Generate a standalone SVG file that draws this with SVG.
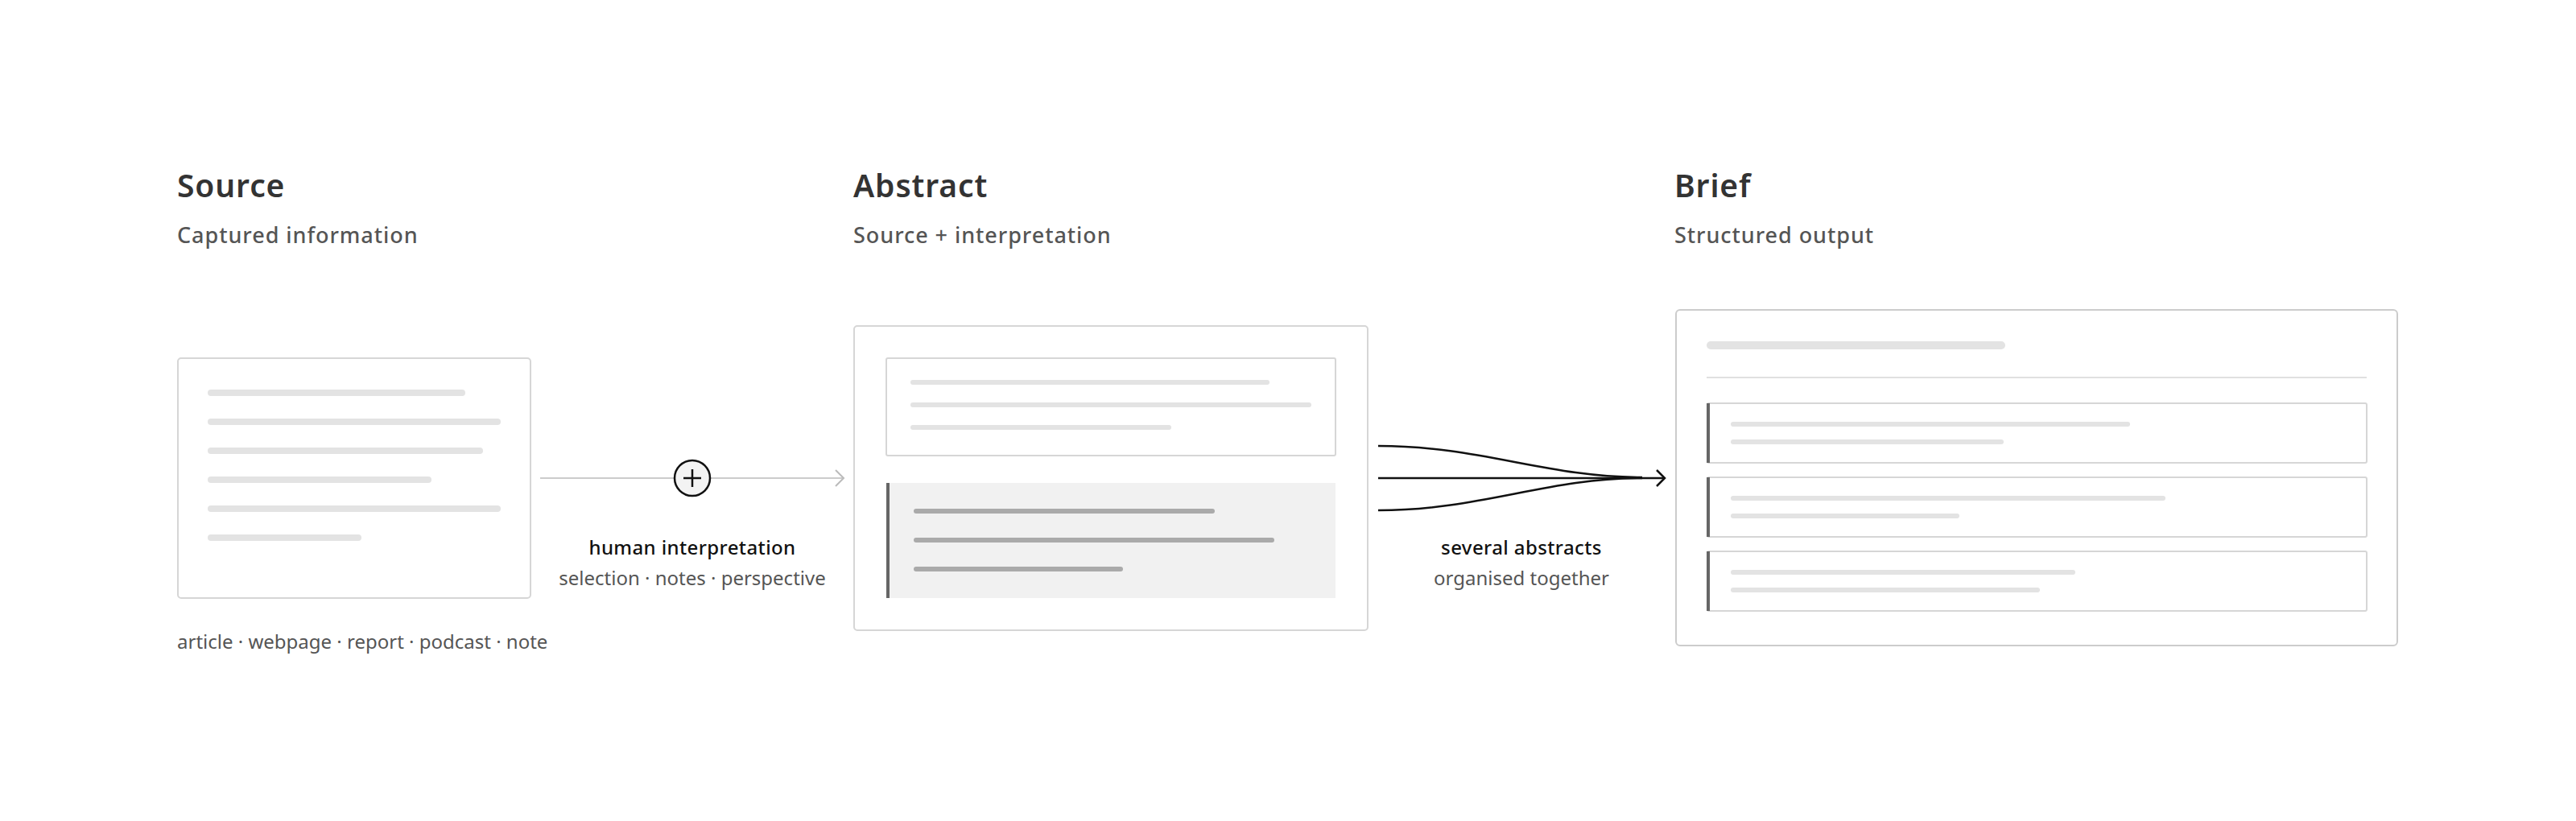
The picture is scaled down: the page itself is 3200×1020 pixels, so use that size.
<svg xmlns="http://www.w3.org/2000/svg" width="3200" height="1020" viewBox="0 0 3200 1020">
<defs>
<style>
text{font-family:"Noto Sans","Open Sans",sans-serif}
.title{font-size:39px;font-weight:600;fill:#333;letter-spacing:0.9px}
.sub{font-size:27px;font-weight:500;fill:#555;letter-spacing:0.95px}
.lab{font-size:24px;font-weight:500;fill:#111;letter-spacing:0.4px}
.lab2{font-size:24px;fill:#555}
.card{fill:#fff;stroke:#d6d6d6;stroke-width:2}
.bar{stroke:#e3e3e3;stroke-width:8;stroke-linecap:round}
.bar6{stroke:#e3e3e3;stroke-width:6;stroke-linecap:round}
.dbar{stroke:#aaa;stroke-width:6;stroke-linecap:round}
.accent{stroke:#666;stroke-width:4}
</style>
<marker id="chevGray" markerWidth="14" markerHeight="24" refX="12" refY="12" orient="auto" markerUnits="userSpaceOnUse">
<path d="M2,2 L12,12 L2,22" fill="none" stroke="#bbb" stroke-width="2"/>
</marker>
<marker id="chevBlack" markerWidth="14" markerHeight="24" refX="12" refY="12" orient="auto" markerUnits="userSpaceOnUse">
<path d="M2,2 L12,12 L2,22" fill="none" stroke="#111" stroke-width="2.5"/>
</marker>
</defs>
<rect width="3200" height="1020" fill="#fff"/>

<g id="source">
<text class="title" x="220" y="245">Source</text>
<text class="sub" x="220" y="302">Captured information</text>
<rect class="card" x="221" y="445" width="438" height="298" rx="4"/>
<line class="bar" x1="262" y1="488" x2="574" y2="488"/>
<line class="bar" x1="262" y1="524" x2="618" y2="524"/>
<line class="bar" x1="262" y1="560" x2="596" y2="560"/>
<line class="bar" x1="262" y1="596" x2="532" y2="596"/>
<line class="bar" x1="262" y1="632" x2="618" y2="632"/>
<line class="bar" x1="262" y1="668" x2="445" y2="668"/>
<text class="lab2" x="220" y="806">article · webpage · report · podcast · note</text>
</g>

<g id="abstract">
<text class="title" x="1060" y="245">Abstract</text>
<text class="sub" x="1060" y="302">Source + interpretation</text>
<rect class="card" x="1061" y="405" width="638" height="378" rx="4"/>
<rect class="card" x="1101" y="445" width="558" height="121" rx="2"/>
<line class="bar6" x1="1134" y1="475" x2="1574" y2="475"/>
<line class="bar6" x1="1134" y1="503" x2="1626" y2="503"/>
<line class="bar6" x1="1134" y1="531" x2="1452" y2="531"/>
<rect x="1101" y="600" width="558" height="143" fill="#f1f1f1"/>
<line class="accent" x1="1103" y1="600" x2="1103" y2="743"/>
<line class="dbar" x1="1138" y1="635" x2="1506" y2="635"/>
<line class="dbar" x1="1138" y1="671" x2="1580" y2="671"/>
<line class="dbar" x1="1138" y1="707" x2="1392" y2="707"/>
</g>

<g id="brief">
<text class="title" x="2080" y="245">Brief</text>
<text class="sub" x="2080" y="302">Structured output</text>
<rect x="2082" y="385" width="896" height="417" rx="5" fill="#fff" stroke="#ccc" stroke-width="2"/>
<line stroke="#e3e3e3" stroke-width="10" stroke-linecap="round" x1="2125" y1="429" x2="2486" y2="429"/>
<line stroke="#e0e0e0" stroke-width="2" x1="2120" y1="469" x2="2940" y2="469"/>
<rect class="card" x="2121" y="501" width="819" height="74" rx="2"/>
<line class="accent" x1="2122" y1="501" x2="2122" y2="575"/>
<line class="bar6" x1="2153" y1="527" x2="2643" y2="527"/>
<line class="bar6" x1="2153" y1="549" x2="2486" y2="549"/>
<rect class="card" x="2121" y="593" width="819" height="74" rx="2"/>
<line class="accent" x1="2122" y1="593" x2="2122" y2="667"/>
<line class="bar6" x1="2153" y1="619" x2="2687" y2="619"/>
<line class="bar6" x1="2153" y1="641" x2="2431" y2="641"/>
<rect class="card" x="2121" y="685" width="819" height="74" rx="2"/>
<line class="accent" x1="2122" y1="685" x2="2122" y2="759"/>
<line class="bar6" x1="2153" y1="711" x2="2575" y2="711"/>
<line class="bar6" x1="2153" y1="733" x2="2531" y2="733"/>
</g>

<g id="connectors">
<line x1="671" y1="594" x2="1048" y2="594" stroke="#ccc" stroke-width="2" marker-end="url(#chevGray)"/>
<circle cx="860" cy="594" r="22" fill="#f3f3f3" stroke="#111" stroke-width="2.5"/>
<line x1="849" y1="594" x2="871" y2="594" stroke="#111" stroke-width="2.5"/>
<line x1="860" y1="583" x2="860" y2="605" stroke="#111" stroke-width="2.5"/>
<text class="lab" x="860" y="689" text-anchor="middle">human interpretation</text>
<text class="lab2" x="860" y="727" text-anchor="middle">selection · notes · perspective</text>

<path d="M1712,554 C1840,554 1920,593 2040,593" fill="none" stroke="#111" stroke-width="2.5"/>
<path d="M1712,634 C1840,634 1920,594 2040,594" fill="none" stroke="#111" stroke-width="2.5"/>
<line x1="1712" y1="594" x2="2068" y2="594" stroke="#111" stroke-width="2.5" marker-end="url(#chevBlack)"/>
<text class="lab" x="1890" y="689" text-anchor="middle">several abstracts</text>
<text class="lab2" x="1890" y="727" text-anchor="middle">organised together</text>
</g>
</svg>
